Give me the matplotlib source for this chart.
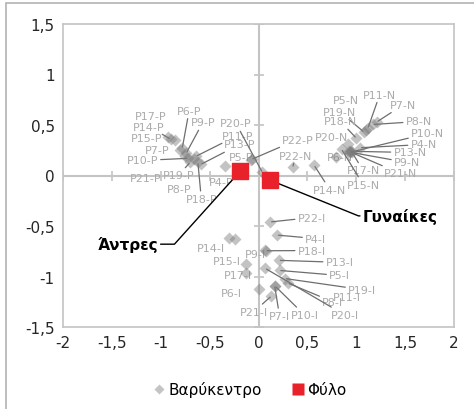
import matplotlib
matplotlib.use("Agg")
import matplotlib.pyplot as plt
from matplotlib.lines import Line2D
from matplotlib.patches import Rectangle

# Βαρύκεντρα ανά ομάδα (-P, -N, -I)
p_names = ["P17-P", "P14-P", "P15-P", "P6-P", "P9-P", "P7-P", "P10-P", "P19-P", "P21-P",
           "P8-P", "P18-P", "P11-P", "P13-P", "P4-P", "P5-P", "P22-P", "P20-P"]
p_x = [-0.93, -0.90, -0.85, -0.78, -0.74, -0.80, -0.72, -0.70, -0.75,
       -0.66, -0.62, -0.64, -0.59, -0.34, -0.08, -0.07, 0.04]
p_y = [0.38, 0.36, 0.35, 0.27, 0.22, 0.25, 0.17, 0.13, 0.19,
       0.16, 0.13, 0.19, 0.11, 0.09, 0.15, 0.16, 0.03]

n_names = ["P5-N", "P11-N", "P7-N", "P19-N", "P8-N", "P18-N", "P20-N", "P6-N", "P10-N",
           "P4-N", "P13-N", "P9-N", "P17-N", "P21-N", "P15-N", "P22-N", "P14-N"]
n_x = [1.10, 1.12, 1.21, 1.08, 1.17, 1.00, 0.92, 0.79, 0.96,
       1.04, 0.93, 0.94, 0.95, 0.935, 0.85, 0.35, 0.57]
n_y = [0.45, 0.47, 0.53, 0.43, 0.505, 0.37, 0.31, 0.185, 0.235,
       0.275, 0.24, 0.23, 0.24, 0.235, 0.26, 0.08, 0.10]

i_names = ["P22-I", "P4-I", "P14-I", "P15-I", "P9-I", "P18-I", "P13-I", "P17-I", "P5-I",
           "P19-I", "P8-I", "P11-I", "P6-I", "P7-I", "P10-I", "P21-I", "P20-I"]
i_x = [0.12, 0.19, -0.30, -0.13, 0.07, 0.075, 0.21, -0.13, 0.215,
       0.27, 0.30, -0.24, 0.01, 0.165, 0.17, 0.13, 0.07]
i_y = [-0.46, -0.59, -0.62, -0.88, -0.74, -0.745, -0.84, -0.97, -0.94,
       -1.02, -1.065, -0.63, -1.12, -1.09, -1.095, -1.195, -0.92]

# Φύλο
sex_names = ["Άντρες", "Γυναίκες"]
sex_x = [-0.19, 0.115]
sex_y = [0.04, -0.045]

x_ticks = [-2, -1.5, -1, -0.5, 0, 0.5, 1, 1.5, 2]
y_ticks = [-1.5, -1, -0.5, 0, 0.5, 1, 1.5]

# label placement (data coords) and which labels get leader lines
label_pos = {
    "P17-P": (-1.10, 0.59), "P6-P": (-0.71, 0.64), "P14-P": (-1.12, 0.485), "P9-P": (-0.57, 0.525),
    "P15-P": (-1.14, 0.376), "P20-P": (-0.23, 0.515), "P7-P": (-1.04, 0.257), "P11-P": (-0.215, 0.396),
    "P13-P": (-0.195, 0.307), "P10-P": (-1.19, 0.149), "P5-P": (-0.175, 0.188), "P21-P": (-1.15, -0.02),
    "P19-P": (-0.82, 0.0), "P4-P": (-0.38, -0.06), "P8-P": (-0.81, -0.13), "P18-P": (-0.585, -0.23),
    "P22-P": (0.40, 0.356),
    "P5-N": (0.89, 0.75), "P11-N": (1.24, 0.80), "P7-N": (1.48, 0.70), "P19-N": (0.83, 0.63),
    "P8-N": (1.64, 0.535), "P18-N": (0.84, 0.535), "P10-N": (1.73, 0.416), "P20-N": (0.75, 0.386),
    "P4-N": (1.69, 0.307), "P13-N": (1.55, 0.228), "P22-N": (0.38, 0.198), "P6-N": (0.83, 0.188),
    "P9-N": (1.52, 0.129), "P17-N": (1.07, 0.05), "P21-N": (1.45, 0.02), "P15-N": (1.07, -0.09),
    "P14-N": (0.73, -0.14),
    "P22-I": (0.545, -0.416), "P4-I": (0.585, -0.624), "P14-I": (-0.49, -0.713), "P18-I": (0.545, -0.743),
    "P9-I": (-0.03, -0.78), "P13-I": (0.83, -0.86), "P15-I": (-0.32, -0.85), "P5-I": (0.83, -0.99),
    "P17-I": (-0.215, -0.99), "P6-I": (-0.28, -1.16), "P19-I": (1.06, -1.13), "P8-I": (0.76, -1.25),
    "P11-I": (0.90, -1.20), "P21-I": (-0.05, -1.35), "P7-I": (0.215, -1.39), "P10-I": (0.47, -1.38),
    "P20-I": (0.88, -1.38),
}
leaders = {"P14-P", "P6-P", "P9-P", "P11-P", "P13-P", "P10-P", "P19-P", "P18-P", "P22-P", "P20-P",
           "P11-N", "P7-N", "P19-N", "P8-N", "P18-N", "P10-N", "P4-N", "P13-N", "P9-N", "P17-N",
           "P21-N", "P15-N", "P22-N", "P14-N",
           "P22-I", "P4-I", "P18-I", "P13-I", "P5-I", "P19-I", "P8-I", "P7-I", "P10-I", "P21-I", "P20-I"}

W, H = 474, 410
fig = plt.figure(figsize=(W / 100, H / 100), dpi=100)
fig.patches.append(Rectangle((6 / W, -0.1), 1.2, 1 - 4 / H + 0.1, transform=fig.transFigure,
                             fill=False, edgecolor="#b3b3b3", lw=1.2))
ax = fig.add_axes([63 / W, 1 - 328 / H, (454 - 63) / W, (328 - 25) / H])
ax.set_xlim(-2, 2)
ax.set_ylim(-1.5, 1.5)
for s in ax.spines.values():
    s.set_color("#c4c4c4")
    s.set_linewidth(1.2)

# axis lines through the origin with cross ticks
ax.axhline(0, color="#c4c4c4", lw=1.5, zorder=1)
ax.axvline(0, color="#c4c4c4", lw=1.5, zorder=1)
ax.plot(x_ticks, [0] * len(x_ticks), ls="none", marker="|", ms=7, mew=1.2, color="#c4c4c4", zorder=1)
ax.plot([0] * len(y_ticks), y_ticks, ls="none", marker="_", ms=7, mew=1.2, color="#c4c4c4", zorder=1)

ax.set_xticks(x_ticks)
ax.set_yticks(y_ticks)
fmt = lambda v: (f"{v:g}").replace(".", ",")
ax.set_xticklabels([fmt(v) for v in x_ticks])
ax.set_yticklabels([fmt(v) for v in y_ticks])
ax.tick_params(length=0, labelsize=11, colors="#262626", pad=6)

all_names = p_names + n_names + i_names
all_x = p_x + n_x + i_x
all_y = p_y + n_y + i_y
ax.plot(all_x, all_y, ls="none", marker="D", ms=6.5, mec="none", color="#7a7a7a", alpha=0.45, zorder=3)

for name, px, py in zip(all_names, all_x, all_y):
    lx, ly = label_pos[name]
    if name in leaders:
        ax.annotate(name, xy=(px, py), xytext=(lx, ly), ha="center", va="center",
                    fontsize=8, color="#ababab", zorder=2,
                    arrowprops=dict(arrowstyle="-", color="#6e6e6e", lw=0.9, shrinkA=0, shrinkB=1))
    else:
        ax.text(lx, ly, name, ha="center", va="center", fontsize=8, color="#ababab", zorder=2)

ax.plot(sex_x, sex_y, ls="none", marker="s", ms=11, color="#e8212b", zorder=5)
ax.annotate(sex_names[0], xy=(sex_x[0], sex_y[0]), xytext=(-1.34, -0.68), ha="center", va="center",
            fontsize=11, fontweight="bold", color="black", zorder=4,
            arrowprops=dict(arrowstyle="-", color="black", lw=1, shrinkA=0, shrinkB=0,
                            connectionstyle="angle,angleA=0,angleB=48,rad=0"))
ax.annotate(sex_names[1], xy=(sex_x[1], sex_y[1]), xytext=(1.45, -0.40), ha="center", va="center",
            fontsize=11, fontweight="bold", color="black", zorder=4,
            arrowprops=dict(arrowstyle="-", color="black", lw=1, shrinkA=0, shrinkB=0,
                            connectionstyle="angle,angleA=0,angleB=-22,rad=0"))

handles = [Line2D([], [], ls="none", marker="D", ms=5, mec="none", color="#c4c4c4"),
           Line2D([], [], ls="none", marker="s", ms=8, mec="none", color="#e8212b")]
fig.legend(handles, ["Βαρύκεντρο", "Φύλο"], loc="center", bbox_to_anchor=(250 / W, 1 - 390 / H),
           ncol=2, frameon=False, fontsize=11, handlelength=0.8, handletextpad=0.2, columnspacing=2.0)

fig.savefig("out.png", dpi=100)
